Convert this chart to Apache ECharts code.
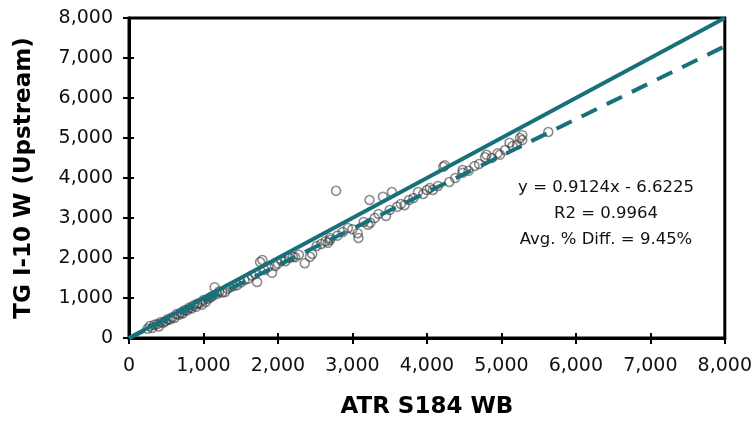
<!DOCTYPE html>
<html>
<head>
<meta charset="utf-8">
<script src="https://cdn.jsdelivr.net/npm/echarts@6/dist/echarts.min.js"></script>
<style>html,body{margin:0;padding:0;background:#fff}#c{width:755px;height:425px}</style>
</head>
<body>
<div id="c"></div>
<script>
const xName = 'ATR S184 WB';
const yName = 'TG I-10 W (Upstream)';
const axisMin = 0, axisMax = 8000, axisStep = 1000;
const fitSlope = 0.9124, fitIntercept = -6.6225;
const annotation = ['y = 0.9124x - 6.6225', 'R2 = 0.9964', 'Avg. % Diff. = 9.45%'];
const obsX = [250,280,310,340,380,400,430,460,490,520,550,580,610,640,670,700,720,750,780,810,840,870,900,920,950,980,1000,1030,1060,1090,1120,1150,1180,1210,1250,1290,1320,1360,1400,1450,1500,1550,1600,1650,1700,1720,1760,1790,1820,1870,1920,1960,2000,2050,2100,2150,2200,2230,2280,2360,2430,2460,2520,2580,2640,2670,2700,2700,2780,2800,2870,2940,3000,3070,3080,3150,3210,3230,3240,3300,3350,3410,3450,3500,3530,3600,3650,3700,3760,3820,3880,3950,4000,4040,4080,4150,4220,4240,4300,4380,4480,4480,4560,4640,4700,4780,4800,4870,4950,4980,5050,5110,5150,5210,5250,5280,5280,5630];
const obsY = [230,300,250,330,350,290,400,380,420,470,460,520,500,600,580,640,610,700,690,760,740,820,780,860,870,830,950,900,980,1010,1050,1270,1100,1160,1140,1150,1230,1270,1300,1320,1390,1450,1480,1560,1600,1400,1900,1950,1700,1780,1630,1800,1860,1930,1920,2000,2030,2020,2080,1870,2030,2100,2300,2350,2420,2380,2450,2500,3680,2560,2650,2750,2720,2620,2500,2900,2830,3450,2880,3000,3100,3530,3050,3200,3650,3280,3350,3320,3450,3500,3650,3600,3700,3750,3700,3800,4280,4320,3900,4000,4130,4200,4180,4300,4350,4520,4580,4500,4620,4580,4700,4880,4800,4830,5000,5070,4950,5150];

const pts = obsX.map((x, i) => [x, obsY[i]]);
const oneToOne = [[axisMin, axisMin], [axisMax, axisMax]];
const fitLine = [[axisMin, fitSlope * axisMin + fitIntercept], [axisMax, fitSlope * axisMax + fitIntercept]];

const labelFont = {fontFamily: 'DejaVu Sans', fontSize: 19, color: '#111'};
const nameFont = {fontFamily: 'DejaVu Sans', fontWeight: 'bold', fontSize: 23, color: '#000'};
const fmt = v => v.toLocaleString('en-US');

const chart = echarts.init(document.getElementById('c'));
chart.setOption({
  animation: false,
  backgroundColor: '#fff',
  grid: {left: 129, right: 30, top: 18, bottom: 87, show: true, borderColor: '#000', borderWidth: 3, containLabel: false},
  xAxis: [{
    type: 'value', min: axisMin, max: axisMax, interval: axisStep,
    name: xName, nameLocation: 'middle', nameGap: 58, nameTextStyle: nameFont,
    axisLine: {show: true, lineStyle: {color: '#000', width: 3}},
    axisTick: {show: true, length: 6, lineStyle: {color: '#000', width: 2}},
    axisLabel: Object.assign({margin: 19, formatter: fmt}, labelFont),
    splitLine: {show: false}
  }, {
    type: 'value', min: axisMin, max: axisMax, interval: axisStep, position: 'bottom',
    axisLine: {show: false}, axisLabel: {show: false}, splitLine: {show: false},
    axisTick: {show: true, inside: true, length: 5, lineStyle: {color: '#000', width: 2}}
  }],
  yAxis: [{
    type: 'value', min: axisMin, max: axisMax, interval: axisStep,
    name: yName, nameLocation: 'middle', nameGap: 93, nameTextStyle: nameFont,
    axisLine: {show: true, lineStyle: {color: '#000', width: 3}},
    axisTick: {show: true, length: 6, lineStyle: {color: '#000', width: 2}},
    axisLabel: Object.assign({margin: 16, formatter: fmt}, labelFont),
    splitLine: {show: false}
  }, {
    type: 'value', min: axisMin, max: axisMax, interval: axisStep, position: 'left',
    axisLine: {show: false}, axisLabel: {show: false}, splitLine: {show: false},
    axisTick: {show: true, inside: true, length: 5, lineStyle: {color: '#000', width: 2}}
  }],
  series: [{
    type: 'scatter', data: pts, symbol: 'circle', symbolSize: 9,
    itemStyle: {color: 'rgba(255,255,255,0)', borderColor: 'rgba(50,50,50,0.7)', borderWidth: 1.6}
  }, {
    type: 'line', data: oneToOne, showSymbol: false, symbol: 'none',
    lineStyle: {color: '#17707a', width: 4}
  }, {
    type: 'line', data: fitLine, showSymbol: false, symbol: 'none',
    lineStyle: {color: '#17707a', width: 4, type: [17, 11]}
  }],
  graphic: annotation.map((t, i) => ({
    type: 'text', x: 606, y: 188 + i * 26,
    style: {text: t, fontFamily: 'DejaVu Sans', fontSize: 16.5, fill: '#111', textAlign: 'center', textVerticalAlign: 'middle'}
  }))
});
</script>
</body>
</html>
